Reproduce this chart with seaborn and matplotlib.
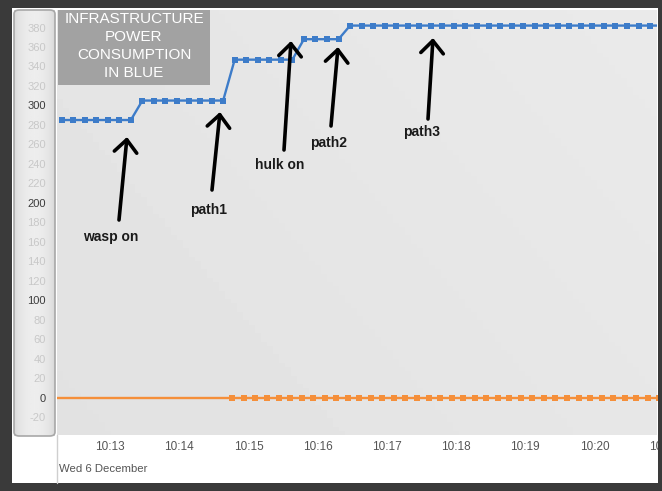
import numpy as np
import pandas as pd
import matplotlib
matplotlib.use("Agg")
import matplotlib.pyplot as plt
import seaborn as sns
import matplotlib.dates as mdates
from matplotlib.patches import Rectangle, FancyBboxPatch
from matplotlib.lines import Line2D
from matplotlib.transforms import ScaledTranslation

# ---------------- data ----------------
blue_start = "2017-12-06 10:12:34"
blue_values = [285, 285, 285, 285, 285, 285, 285,
               305, 305, 305, 305, 305, 305, 305, 305,
               347, 347, 347, 347, 347, 347,
               368, 368, 368, 368,
               382, 382, 382, 382, 382, 382, 382, 382, 382, 382,
               382, 382, 382, 382, 382, 382, 382, 382, 382, 382,
               382, 382, 382, 382, 382, 382, 382, 382]
orange_first_time = "2017-12-06 10:12:20"
orange_start = "2017-12-06 10:15:02"
orange_values = [0] * 39
tick_labels = ["10:13", "10:14", "10:15", "10:16", "10:17", "10:18", "10:19", "10:20", "10:21"]
y_ticks = list(range(-20, 381, 20))
y_strong = [0, 100, 200, 300]
title_lines = ["INFRASTRUCTURE", "POWER", "CONSUMPTION", "IN BLUE"]
notes = ["wasp on", "path1", "hulk on", "path2", "path3"]
date_label = "Wed 6 December"

blue_times = pd.date_range(blue_start, periods=len(blue_values), freq="10s")
orange_times = [pd.Timestamp(orange_first_time)] + list(
    pd.date_range(orange_start, periods=len(orange_values) - 1, freq="10s"))

df = pd.concat([
    pd.DataFrame({"time": blue_times, "value": blue_values, "series": "infra"}),
    pd.DataFrame({"time": orange_times, "value": orange_values, "series": "other"}),
])

# ---------------- figure ----------------
W, H = 662, 491
sns.set_theme(style="white")
plt.rcParams["font.family"] = ["Liberation Sans", "DejaVu Sans"]
fig = plt.figure(figsize=(W / 100, H / 100), dpi=100, facecolor="#3a3a3a")

def fx(x):
    return x / W

def fy(y):
    return 1 - y / H

# white chart card
fig.patches.append(Rectangle((fx(12), fy(483)), fx(658) - fx(12), fy(8) - fy(483),
                             transform=fig.transFigure, facecolor="white",
                             edgecolor="none", zorder=-10))
# y-axis panel
panel_ax = fig.add_axes([fx(14), fy(436), fx(55) - fx(14), fy(10) - fy(436)], zorder=-5)
grad = np.linspace(0, 1, 60)
prof = 0.83 + 0.10 * np.sin(np.pi * grad) ** 0.5
img = np.tile(prof, (10, 1))
panel_ax.imshow(img, cmap="gray", vmin=0, vmax=1, aspect="auto", extent=[0, 1, 0, 1])
panel_ax.set_axis_off()
fig.patches.append(FancyBboxPatch((fx(14), fy(436)), fx(55) - fx(14), fy(10) - fy(436),
                                  boxstyle="round,pad=0,rounding_size=0.008",
                                  transform=fig.transFigure, facecolor="none",
                                  edgecolor="#a8a8a8", lw=1.2, zorder=5))

ax = fig.add_axes([fx(57), fy(435), fx(657) - fx(57), fy(10) - fy(435)])
# plot background gradient
gx = np.linspace(0, 1, 100)
gy = np.linspace(0, 1, 100)
GX, GY = np.meshgrid(gx, gy)
bg = 0.885 + 0.02 * GX + 0.012 * GY
ax.imshow(bg, cmap="gray", vmin=0, vmax=1, aspect="auto", extent=[0, 1, 0, 1],
          transform=ax.transAxes, zorder=-10, origin="lower")

sns.lineplot(data=df, x="time", y="value", hue="series",
             palette={"infra": "#3d7cc9", "other": "#f58f3a"},
             marker="s", markersize=5, markeredgewidth=0, linewidth=1.7,
             legend=False, ax=ax, sort=True, estimator=None)

ax.set_xlim(pd.Timestamp("2017-12-06 10:12:30"), pd.Timestamp("2017-12-06 10:21:10"))
ax.set_ylim(-38.5, 398)
for s in ax.spines.values():
    s.set_visible(False)
ax.set_xlabel("")
ax.set_ylabel("")

# y ticks
ax.set_yticks(y_ticks)
ax.set_yticklabels([str(v) for v in y_ticks])
ax.tick_params(axis="y", length=0, pad=8, labelsize=8)
for v, lbl in zip(y_ticks, ax.get_yticklabels()):
    lbl.set_color("#3c3c3c" if v in y_strong else "#c8c8c8")

# x ticks
tick_pos = [pd.Timestamp("2017-12-06 " + t) for t in tick_labels]
ax.set_xticks(mdates.date2num(tick_pos))
ax.set_xticklabels(tick_labels)
ax.tick_params(axis="x", direction="out", length=15, width=0.8, color="#e2e2e2",
               pad=-11, labelsize=8.5, labelcolor="#555555")
for lbl in ax.get_xticklabels():
    lbl.set_horizontalalignment("left")
    lbl.set_transform(lbl.get_transform() + ScaledTranslation(3.5 / 100, 0, fig.dpi_scale_trans))

# separator line at left of x-axis area
fig.lines.append(Line2D([fx(57), fx(57)], [fy(483), fy(435)], transform=fig.transFigure,
                        color="#cfcfcf", lw=1))
fig.text(fx(59), fy(469), date_label, ha="left", va="center", fontsize=8.2, color="#555555")

# dark frame on the right, hiding the overflow of the last time label
fig.patches.append(Rectangle((fx(657.5), 0), 1 - fx(657.5), 1, transform=fig.transFigure,
                             facecolor="#3a3a3a", edgecolor="none", zorder=20))

# title box
fig.patches.append(Rectangle((fx(58), fy(85)), fx(210) - fx(58), fy(10) - fy(85),
                             transform=fig.transFigure, facecolor="#a2a2a2",
                             edgecolor="none", zorder=6))
for i, t in enumerate(title_lines):
    fig.text(fx(134), fy(19 + 18 * i), t, ha="center", va="center", color="white",
             fontsize=11, zorder=7)

# hand-drawn style arrows and notes
arrows = [((119, 220), (127, 137)), ((212, 190), (220, 112)), ((284, 150), (291, 41)),
          ((331, 126), (338, 47)), ((428, 119), (433, 38))]
note_pos = [(111, 237), (209, 210), (280, 165), (328, 143), (422, 132)]
for (tail, tip), txt, (tx, ty) in zip(arrows, notes, note_pos):
    ax.annotate("", xy=(tip[0], H - tip[1]), xytext=(tail[0], H - tail[1]),
                xycoords="figure pixels", textcoords="figure pixels",
                arrowprops=dict(arrowstyle="->,head_length=0.5,head_width=0.45",
                                lw=2.6, color="black", mutation_scale=18,
                                shrinkA=0, shrinkB=0))
    fig.text(fx(tx), fy(ty), txt, ha="center", va="center", fontsize=10,
             fontweight="bold", color="#1a1a1a")

fig.savefig("out.png", dpi=100, facecolor=fig.get_facecolor())
